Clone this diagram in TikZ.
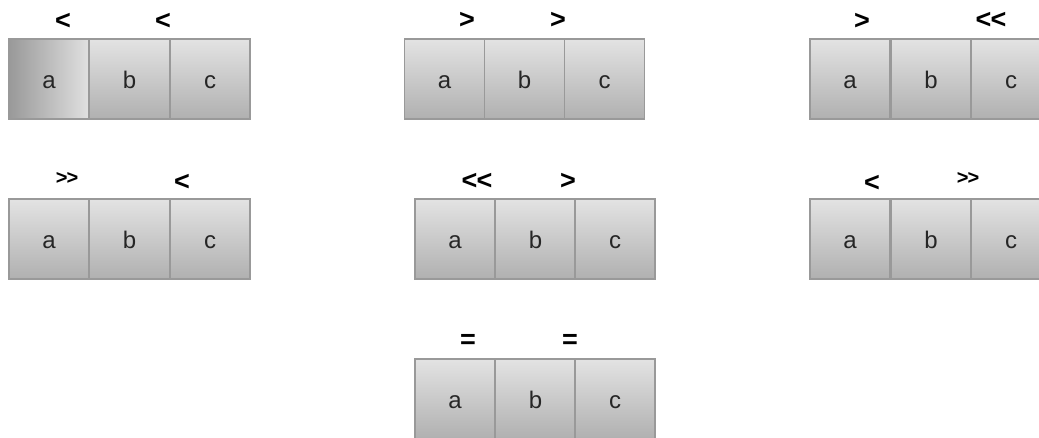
\documentclass[tikz,border=0pt]{standalone}
\usepackage{fontspec}
\setmainfont{Liberation Sans}
\begin{document}
\begin{tikzpicture}[x=1pt,y=-1pt,
  cell/.style={draw=black!40, line width=1.6pt, minimum width=80pt, minimum height=80pt,
    inner sep=0pt, top color=black!11, bottom color=black!31,
    text height=18pt, text depth=0pt,
    font=\fontsize{24}{24}\selectfont, text=black!85},
  cellh/.style={cell, left color=black!40, right color=black!12},
  rel/.style={font=\bfseries\fontsize{27}{27}\selectfont, inner sep=0pt},
  rels/.style={font=\bfseries\fontsize{20}{20}\selectfont, inner sep=0pt}]
\useasboundingbox (0,0) rectangle (1039,437);
\clip (0,0) rectangle (1039,437);
% box 1
\node[cellh] (a1) at (49,79) {a};
\node[cell] (b1) at (129.5,79) {b};
\node[cell] (c1) at (210,79) {c};
\node[rel] (r1a) at (63,21) {<};
\node[rel] (r1b) at (163,21) {<};
% box 2
\node[cell] (a2) at (444.5,79) {a};
\node[cell] (b2) at (524.5,79) {b};
\node[cell] (c2) at (604.5,79) {c};
\node[rel] (r2a) at (467,20) {>};
\node[rel] (r2b) at (558,20) {>};
% box 3
\node[cell] (a3) at (850,79) {a};
\node[cell] (b3) at (931,79) {b};
\node[cell] (c3) at (1011,79) {c};
\node[rel] (r3a) at (862,21) {>};
\node[rel] (r3b) at (991,20) {<\kern-1pt<};
% box 4
\node[cell] (a4) at (49,239) {a};
\node[cell] (b4) at (129.5,239) {b};
\node[cell] (c4) at (210,239) {c};
\node[rels] (r4a) at (67,178) {>\kern-1pt>};
\node[rel] (r4b) at (182,182) {<};
% box 5
\node[cell] (a5) at (455,239) {a};
\node[cell] (b5) at (535.5,239) {b};
\node[cell] (c5) at (615,239) {c};
\node[rel] (r5a) at (477,181) {<\kern-1pt<};
\node[rel] (r5b) at (568,181) {>};
% box 6
\node[cell] (a6) at (850,239) {a};
\node[cell] (b6) at (931,239) {b};
\node[cell] (c6) at (1011,239) {c};
\node[rel] (r6a) at (872,183) {<};
\node[rels] (r6b) at (968,178) {>\kern-1pt>};
% box 7
\node[cell] (a7) at (455,399) {a};
\node[cell] (b7) at (535.5,399) {b};
\node[cell] (c7) at (615,399) {c};
\node[rel] (r7a) at (468,341) {=};
\node[rel] (r7b) at (570,341) {=};
\end{tikzpicture}
\end{document}
